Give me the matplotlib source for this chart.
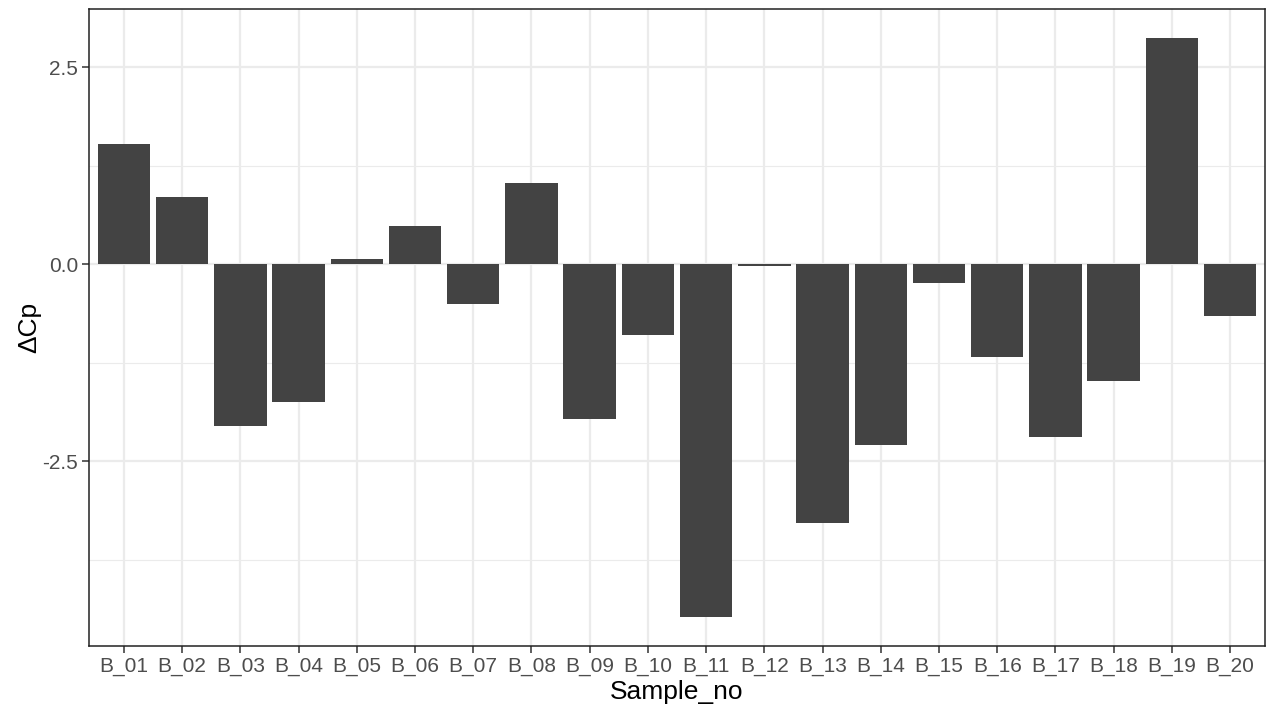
import matplotlib
matplotlib.use("Agg")
import matplotlib.pyplot as plt
import numpy as np

samples = [f"B_{i:02d}" for i in range(1, 21)]
delta_cp = [1.53, 0.85, -2.05, -1.75, 0.06, 0.48, -0.51, 1.03, -1.97, -0.90,
            -4.48, -0.03, -3.29, -2.29, -0.24, -1.18, -2.20, -1.49, 2.87, -0.66]
y_ticks = [-2.5, 0.0, 2.5]
y_minor = [-3.75, -1.25, 1.25]

plt.rcParams["font.family"] = ["Liberation Sans", "DejaVu Sans"]

fig = plt.figure(figsize=(12.66, 7.12), dpi=100)
ax = fig.add_axes([89 / 1266, 1 - 646 / 712, (1265 - 89) / 1266, (646 - 9) / 712])

x = np.arange(1, len(samples) + 1)
ax.bar(x, delta_cp, width=0.9, color="#434343", zorder=3)

lo, hi = min(delta_cp), max(delta_cp)
pad = 0.05 * (hi - lo)
ax.set_ylim(lo - pad, hi + pad)
ax.set_xlim(0.4, len(samples) + 0.6)

ax.set_yticks(y_ticks)
ax.set_yticklabels([f"{v:.1f}" for v in y_ticks])
ax.set_yticks(y_minor, minor=True)
ax.set_xticks(x)
ax.set_xticklabels(samples)

ax.grid(True, which="major", color="#EBEBEB", linewidth=1.6, zorder=0)
ax.grid(True, which="minor", axis="y", color="#EBEBEB", linewidth=0.8, zorder=0)
ax.set_axisbelow(True)

ax.tick_params(axis="both", which="major", length=5, width=1.1, color="#333333",
               labelsize=15, labelcolor="#4D4D4D", pad=3)
ax.tick_params(axis="both", which="minor", length=0)

for s in ax.spines.values():
    s.set_color("#222222")
    s.set_linewidth(1.1)

ax.set_xlabel("Sample_no", fontsize=19, color="black", labelpad=3)
ax.set_ylabel("ΔCp", fontsize=19, color="black", labelpad=1)

fig.savefig("out.png", dpi=100, facecolor="white")
